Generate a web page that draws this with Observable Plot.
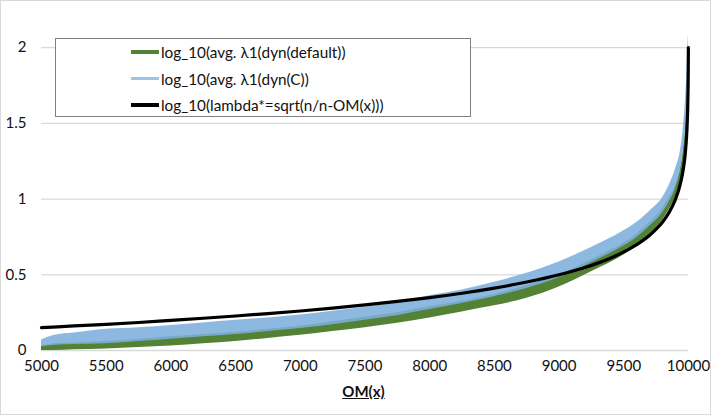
<!DOCTYPE html>
<html>
<head>
<meta charset="utf-8">
<script src="https://cdn.jsdelivr.net/npm/d3@7"></script>
<script src="https://cdn.jsdelivr.net/npm/@observablehq/plot@0.6"></script>
<style>
  html, body { margin: 0; padding: 0; background: #fff; }
  #chart { position: relative; width: 715px; height: 416px; font-family: Lato, "Open Sans", sans-serif; }
  #frame { position: absolute; left: 0; top: 0; width: 711px; height: 415px; box-sizing: border-box; border: 1.5px solid #D9D9D9; pointer-events: none; }
  #legend { position: absolute; left: 55px; top: 38px; width: 416px; height: 79px; box-sizing: border-box; border: 1px solid #7F7F7F; background: #fff; }
  .item { position: absolute; left: 75px; height: 20px; display: flex; align-items: center; font-size: 15.3px; color: #111; white-space: nowrap; }
  .swatch { width: 28px; height: 3.5px; margin-right: 2px; }
  #xlabel { position: absolute; top: 382px; left: 0; width: 727px; text-align: center; font-weight: bold; font-size: 15px; text-decoration: underline; color: #111; }
</style>
</head>
<body>
<div id="chart"></div>
<script>
// OM(x) sample positions for the two measured series
const omX      = [5000, 5100, 5250, 5500, 5750, 6000, 6250, 6500, 6750, 7000, 7250, 7500, 7750, 8000, 8250, 8500, 8750, 9000, 9250, 9500, 9600, 9700, 9800, 9850, 9900, 9940, 9960, 9980, 9990, 9998, 10000];
// log_10(avg. λ1(dyn(C))) — spread of the noisy trace (low / high)
const blueLo   = [0.025, 0.035, 0.04, 0.045, 0.06, 0.075, 0.09, 0.105, 0.125, 0.145, 0.17, 0.2, 0.23, 0.27, 0.31, 0.355, 0.41, 0.48, 0.58, 0.69, 0.745, 0.82, 0.91, 0.98, 1.07, 1.2, 1.32, 1.5, 1.66, 1.93, 1.98];
const blueHi   = [0.07, 0.1, 0.115, 0.14, 0.15, 0.165, 0.182, 0.2, 0.215, 0.235, 0.26, 0.285, 0.318, 0.362, 0.4, 0.45, 0.51, 0.585, 0.68, 0.79, 0.845, 0.92, 1.01, 1.09, 1.2, 1.33, 1.47, 1.7, 1.88, 2.06, 2.08];
// log_10(avg. λ1(dyn(default))) — spread of the noisy trace (low / high)
const greenLo  = [0.0, 0.0, 0.005, 0.01, 0.02, 0.03, 0.045, 0.06, 0.08, 0.1, 0.125, 0.15, 0.18, 0.215, 0.255, 0.295, 0.345, 0.42, 0.52, 0.63, 0.69, 0.765, 0.86, 0.93, 1.01, 1.12, 1.22, 1.4, 1.55, 1.85, 1.9];
const greenHi  = [0.03, 0.045, 0.05, 0.06, 0.075, 0.09, 0.105, 0.12, 0.14, 0.16, 0.19, 0.22, 0.25, 0.29, 0.325, 0.37, 0.43, 0.5, 0.6, 0.71, 0.77, 0.845, 0.94, 1.01, 1.09, 1.21, 1.32, 1.52, 1.7, 1.98, 2.0];
// log_10(lambda*) reference curve
const curveX   = [5000, 5250, 5500, 5750, 6000, 6250, 6500, 6750, 7000, 7250, 7500, 7750, 8000, 8250, 8500, 8750, 9000, 9200, 9400, 9500, 9600, 9700, 9750, 9800, 9850, 9900, 9925, 9950, 9965, 9975, 9985, 9990, 9995, 9998, 9999];
const curveY   = [0.151, 0.162, 0.173, 0.185, 0.199, 0.213, 0.228, 0.244, 0.261, 0.280, 0.301, 0.324, 0.349, 0.378, 0.412, 0.452, 0.500, 0.548, 0.611, 0.651, 0.699, 0.761, 0.801, 0.849, 0.912, 1.000, 1.062, 1.151, 1.228, 1.301, 1.412, 1.500, 1.651, 1.849, 2.000];

const xTicks = [5000, 5500, 6000, 6500, 7000, 7500, 8000, 8500, 9000, 9500, 10000];
const yTicks = [0, 0.5, 1, 1.5, 2];

const seriesNames = [
  "log_10(avg. λ1(dyn(default))",
  "log_10(avg. λ1(dyn(C))",
  "log_10(lambda*=sqrt(n/n-OM(x)))"
];
const seriesColors = ["#548235", "#9DC3E6", "#000000"];
const xTitle = "OM(x)";

const green = omX.map((x, i) => ({x, lo: greenLo[i], hi: greenHi[i]}));
const blue = omX.map((x, i) => ({x, lo: blueLo[i], hi: blueHi[i]}));
const curve = curveX.map((x, i) => ({x, y: curveY[i]}));

const chart = Plot.plot({
  width: 715,
  height: 416,
  marginLeft: 41,
  marginRight: 27,
  marginTop: 32,
  marginBottom: 66,
  x: {domain: [5000, 10000]},
  y: {domain: [0, 2.1]},
  style: {fontFamily: "Lato, 'Open Sans', sans-serif", fontSize: "15px", color: "#111", background: "transparent", overflow: "visible"},
  marks: [
    Plot.ruleY(yTicks, {stroke: "#D9D9D9", strokeWidth: 1.3}),
    Plot.areaY(green, {x: "x", y1: "lo", y2: "hi", fill: "#548235", curve: "monotone-x"}),
    Plot.areaY(blue, {x: "x", y1: "lo", y2: "hi", fill: "#7DAFDD", fillOpacity: 0.88, curve: "monotone-x"}),
    Plot.line(curve, {x: "x", y: "y", stroke: "#000", strokeWidth: 3.2, curve: "monotone-x"}),
    Plot.axisX({ticks: xTicks, tickSize: 0, tickPadding: 10, tickFormat: d => String(d), label: null, fontSize: 15}),
    Plot.axisY({ticks: yTicks, tickSize: 0, tickPadding: 15, tickFormat: d => String(d), label: null, fontSize: 15})
  ]
});

const root = document.getElementById("chart");
root.appendChild(chart);

const legend = document.createElement("div");
legend.id = "legend";
seriesNames.forEach((name, i) => {
  const item = document.createElement("div");
  item.className = "item";
  item.style.top = (3 + i * 26.5) + "px";
  const sw = document.createElement("span");
  sw.className = "swatch";
  sw.style.background = seriesColors[i];
  const label = document.createElement("span");
  label.textContent = name;
  item.appendChild(sw);
  item.appendChild(label);
  legend.appendChild(item);
});
root.appendChild(legend);

const xl = document.createElement("div");
xl.id = "xlabel";
xl.textContent = xTitle;
root.appendChild(xl);

const frame = document.createElement("div");
frame.id = "frame";
root.appendChild(frame);
</script>
</body>
</html>
